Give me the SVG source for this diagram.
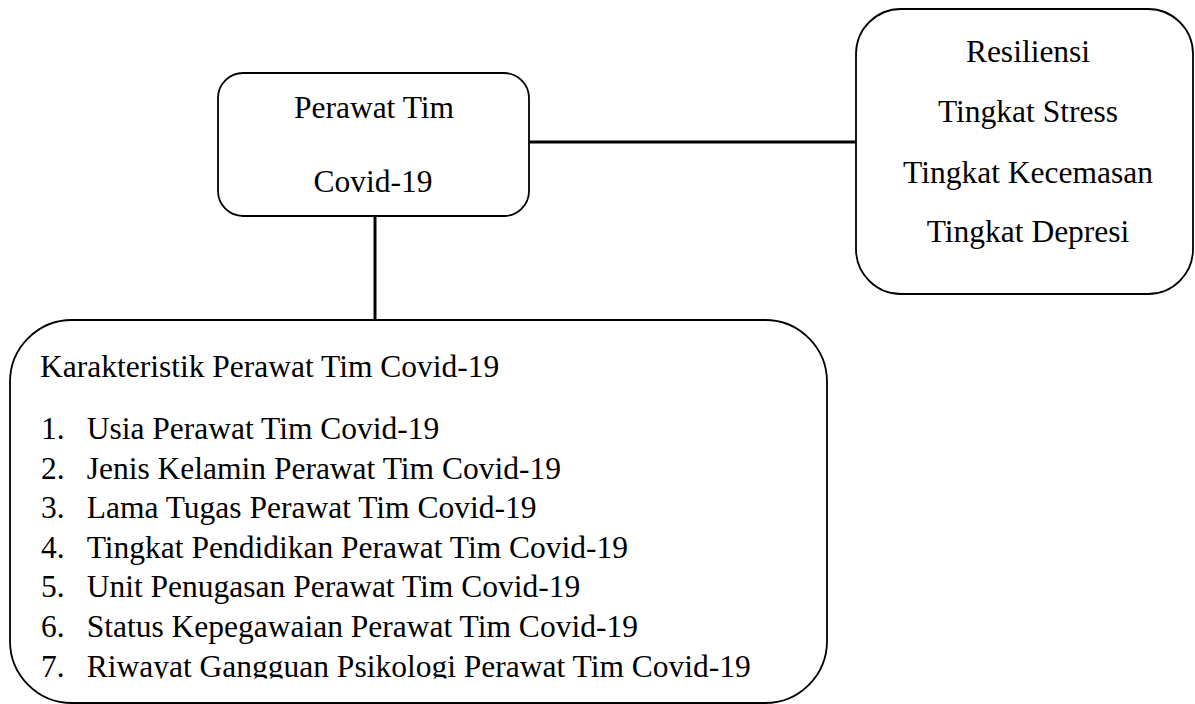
<svg xmlns="http://www.w3.org/2000/svg" width="1195" height="704" viewBox="0 0 1195 704">
<style>
.box{fill:#fff;stroke:#000;stroke-width:1.8}
.conn{stroke:#000;stroke-width:3;fill:none}
text{font-family:"Liberation Serif","Times New Roman",serif;font-size:31.5px;fill:#000}
.c{text-anchor:middle}
</style>
<defs>
<clipPath id="clip7"><rect x="0" y="600" width="1195" height="78.5"/></clipPath>
</defs>
<rect width="1195" height="704" fill="#fff"/>
<g id="connectors">
<line class="conn" x1="529" y1="142" x2="856" y2="142"/>
<line class="conn" x1="375" y1="216" x2="375" y2="320"/>
</g>
<g id="node-perawat">
<rect class="box" x="218" y="73" width="311" height="143" rx="25" ry="25"/>
<text class="c" x="374" y="118">Perawat Tim</text>
<text class="c" x="373" y="192">Covid-19</text>
</g>
<g id="node-variabel">
<rect class="box" x="856" y="9" width="337" height="285" rx="45" ry="45"/>
<text class="c" x="1028" y="62">Resiliensi</text>
<text class="c" x="1028" y="121.5">Tingkat Stress</text>
<text class="c" x="1028" y="183">Tingkat Kecemasan</text>
<text class="c" x="1028" y="242">Tingkat Depresi</text>
</g>
<g id="node-karakteristik">
<rect class="box" x="10" y="320" width="817" height="383" rx="62" ry="62"/>
<text x="40" y="377">Karakteristik Perawat Tim Covid-19</text>
<text x="41" y="439">1.</text><text x="86.7" y="439">Usia Perawat Tim Covid-19</text>
<text x="41" y="478.5">2.</text><text x="86.7" y="478.5">Jenis Kelamin Perawat Tim Covid-19</text>
<text x="41" y="518">3.</text><text x="86.7" y="518">Lama Tugas Perawat Tim Covid-19</text>
<text x="41" y="557.5">4.</text><text x="86.7" y="557.5">Tingkat Pendidikan Perawat Tim Covid-19</text>
<text x="41" y="597">5.</text><text x="86.7" y="597">Unit Penugasan Perawat Tim Covid-19</text>
<text x="41" y="636.5">6.</text><text x="86.7" y="636.5">Status Kepegawaian Perawat Tim Covid-19</text>
<g clip-path="url(#clip7)">
<text x="41" y="677">7.</text><text x="86.7" y="677">Riwayat Gangguan Psikologi Perawat Tim Covid-19</text>
</g>
</g>
</svg>
